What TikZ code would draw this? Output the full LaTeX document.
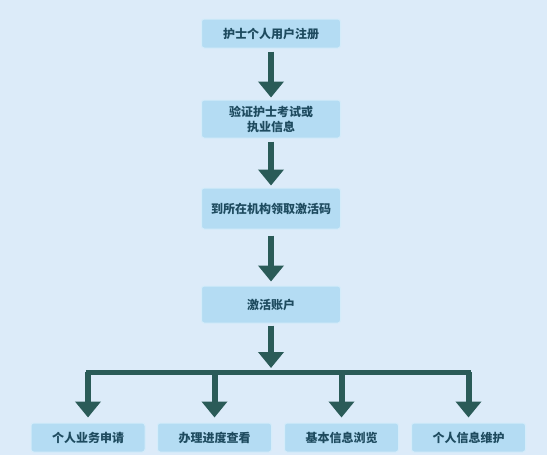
\documentclass[tikz,border=0pt]{standalone}
\usepackage{fontspec}
\usepackage{tikz}
\usetikzlibrary{arrows.meta}
\newfontfamily\cjk{Noto Sans CJK SC}
\definecolor{bgblue}{RGB}{220,235,249}
\definecolor{boxblue}{RGB}{180,220,243}
\definecolor{boxrim}{RGB}{212,236,250}
\definecolor{arrowgreen}{RGB}{42,91,88}
\definecolor{textnavy}{RGB}{30,75,95}
\tikzset{
  stepbox/.style={fill=boxblue, draw=boxrim, line width=0.75pt, rounded corners=2pt,
    minimum width=104.25pt, inner sep=0pt, text=textnavy, align=center,
    font=\cjk\bfseries\fontsize{9pt}{11.25pt}\selectfont},
  leafbox/.style={stepbox, minimum width=85.5pt, minimum height=21.75pt},
  flowarrow/.style={draw=arrowgreen, line width=4.5pt, -{Triangle[width=18.75pt,length=12pt]}},
}
\begin{document}
\begin{tikzpicture}[x=0.75pt,y=0.75pt,yscale=-1,xscale=1]
        %set diagram left start at 0, and has height of 455
        \fill [bgblue] (0,0) rectangle (547,455);
        \useasboundingbox (0,0) rectangle (547,455);

        %Shape: Steps
        \node [stepbox, minimum height=21.75pt] (register) at (271,33.5) {护士个人用户注册};
        \node [stepbox, minimum height=28.5pt] (verify) at (271,119) {验证护士考试或\\执业信息};
        \node [stepbox, minimum height=30.75pt] (code) at (271,208.5) {到所在机构领取激活码};
        \node [stepbox, minimum height=27.75pt] (activate) at (271,304.5) {激活账户};

        %Shape: Services
        \node [leafbox] (apply) at (88,437.5) {个人业务申请};
        \node [leafbox] (progress) at (214.5,437.5) {办理进度查看};
        \node [leafbox] (browse) at (341.5,437.5) {基本信息浏览};
        \node [leafbox] (maintain) at (468.5,437.5) {个人信息维护};

        %Straight Lines: Steps
        \draw [flowarrow, shorten <=2.25pt, shorten >=1.5pt] (register) -- (verify);
        \draw [flowarrow, shorten <=2.25pt, shorten >=1.5pt] (verify) -- (code);
        \draw [flowarrow, shorten <=4.5pt, shorten >=3pt] (code) -- (activate);

        %Straight Lines: Branch bar
        \coordinate (bar) at (271,372);
        \draw [draw=arrowgreen, line width=3.75pt, line cap=rect] (apply.north |- bar) -- (maintain.north |- bar);
        \draw [flowarrow, shorten <=1.5pt, shorten >=3pt] (activate) -- (bar);

        %Straight Lines: Branches
        \foreach \leaf in {apply,progress,browse,maintain}
          \draw [flowarrow, shorten >=3.75pt] (\leaf.north |- bar) -- (\leaf);

\end{tikzpicture}
\end{document}
